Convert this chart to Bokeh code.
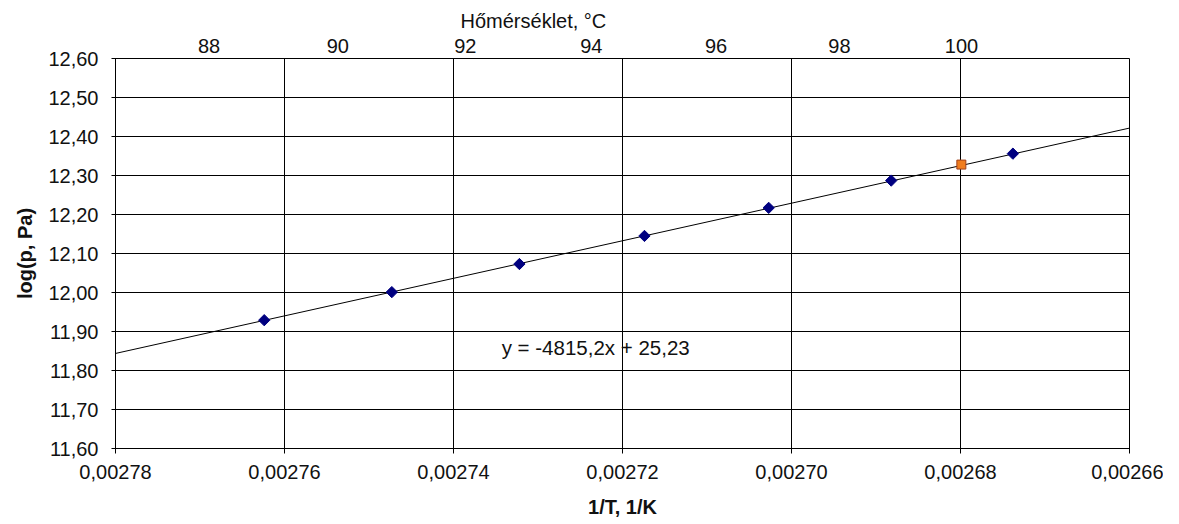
from bokeh.plotting import figure
from bokeh.models import (Range1d, LinearAxis, FixedTicker, CustomJSTickFormatter,
                          Label)
from bokeh.embed import file_html
from bokeh.resources import INLINE

# ---- data ----
inv_T = [0.0027624, 0.0027473, 0.0027322, 0.0027174, 0.0027027, 0.0026882, 0.0026738]
log_p = [11.929, 12.001, 12.073, 12.145, 12.217, 12.287, 12.356]
highlight_x = [0.0026799]
highlight_y = [12.328]
slope = -4815.2
intercept = 25.23
trend_x = [0.00278, 0.00266]
x_ticks = [0.00278, 0.00276, 0.00274, 0.00272, 0.00270, 0.00268, 0.00266]
y_ticks = [11.6, 11.7, 11.8, 11.9, 12.0, 12.1, 12.2, 12.3, 12.4, 12.5, 12.6]
top_temps_C = [88, 90, 92, 94, 96, 98, 100]

trend_y = [slope * x + intercept for x in trend_x]
top_positions = [1.0 / (t + 273.15) for t in top_temps_C]

FONT = "Liberation Sans"
FS = "20px"
TXT = "#111111"

p = figure(frame_width=1014, frame_height=390,
           x_range=Range1d(0.00278, 0.00266), y_range=Range1d(11.6, 12.6),
           output_backend="svg", toolbar_location=None,
           min_border_left=115, min_border_top=58, min_border_right=34, min_border_bottom=10,
           title="Hőmérséklet, °C", background_fill_color="white",
           border_fill_color="white", outline_line_color="black")

p.title.align = "left"
p.title.offset = 345
p.title.text_font = FONT
p.title.text_font_size = FS
p.title.text_font_style = "normal"
p.title.text_color = TXT
p.title.standoff = 8

# bottom axis
xt = FixedTicker(ticks=x_ticks)
p.xaxis.ticker = xt
p.xaxis.formatter = CustomJSTickFormatter(code="return tick.toFixed(5).replace('.', ',');")
p.xaxis.axis_label = "1/T, 1/K"
p.xaxis.axis_label_text_font = FONT
p.xaxis.axis_label_text_font_size = FS
p.xaxis.axis_label_text_font_style = "bold"
p.xaxis.axis_label_text_color = TXT
p.xaxis.axis_label_standoff = 14
p.xaxis.major_label_text_font = FONT
p.xaxis.major_label_text_font_size = FS
p.xaxis.major_label_text_color = TXT
p.xaxis.major_label_standoff = 11
p.xaxis.major_tick_out = 5
p.xaxis.major_tick_in = 5
p.xaxis.minor_tick_line_color = None
p.xaxis.axis_line_color = "black"
p.xaxis.major_tick_line_color = "black"

# left axis
yt = FixedTicker(ticks=y_ticks)
p.yaxis.ticker = yt
p.yaxis.formatter = CustomJSTickFormatter(code="return tick.toFixed(2).replace('.', ',');")
p.yaxis.axis_label = "log(p, Pa)"
p.yaxis.axis_label_text_font = FONT
p.yaxis.axis_label_text_font_size = FS
p.yaxis.axis_label_text_font_style = "bold"
p.yaxis.axis_label_text_color = TXT
p.yaxis.axis_label_standoff = 9
p.yaxis.major_label_text_font = FONT
p.yaxis.major_label_text_font_size = FS
p.yaxis.major_label_text_color = TXT
p.yaxis.major_label_standoff = 13
p.yaxis.major_tick_out = 4
p.yaxis.major_tick_in = 4
p.yaxis.minor_tick_line_color = None
p.yaxis.axis_line_color = "black"
p.yaxis.major_tick_line_color = "black"

p.xgrid.ticker = xt
p.ygrid.ticker = yt
p.xgrid.grid_line_color = "black"
p.ygrid.grid_line_color = "black"
p.xgrid.grid_line_width = 1
p.ygrid.grid_line_width = 1

# top temperature axis
top_axis = LinearAxis(ticker=FixedTicker(ticks=top_positions),
                      formatter=CustomJSTickFormatter(code="return Math.round(1/tick - 273.15).toString();"),
                      major_tick_out=0, major_tick_in=0, minor_tick_line_color=None,
                      axis_line_color=None, major_tick_line_color=None,
                      major_label_standoff=6,
                      major_label_text_font=FONT, major_label_text_font_size=FS,
                      major_label_text_color=TXT)
p.add_layout(top_axis, "above")

# trend line and points
p.line(trend_x, trend_y, line_color="black", line_width=1)
p.scatter(inv_T, log_p, marker="square", size=8, angle=0.785398,
          fill_color="#000080", line_color="#000080")
p.scatter(highlight_x, highlight_y, marker="square", size=9,
          fill_color="#F07D1E", line_color="#A0401A", line_width=1)

eq_text = "y = {}x + {}".format(slope, intercept).replace(".", ",")
p.add_layout(Label(x=0.0027343, y=11.86, text=eq_text, text_align="left",
                   text_baseline="middle", text_font=FONT, text_font_size="20.5px",
                   text_color=TXT))

open("out.html", "w").write(file_html(p, INLINE))
